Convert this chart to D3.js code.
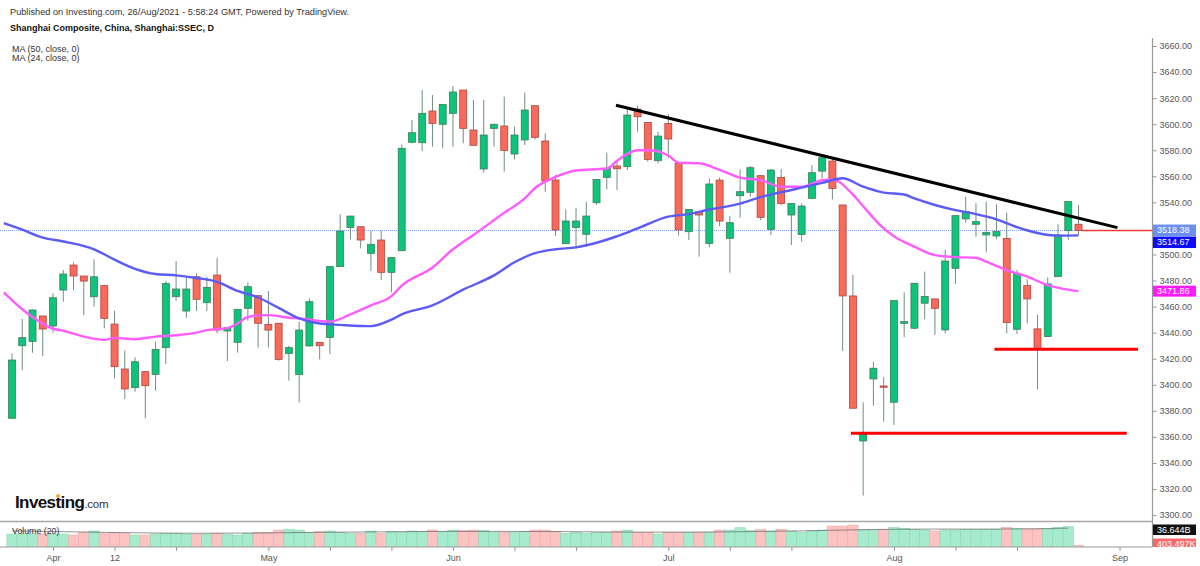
<!DOCTYPE html>
<html>
<head>
<meta charset="utf-8">
<script src="https://cdn.jsdelivr.net/npm/d3@7/dist/d3.min.js"></script>
<style>
    body { margin: 0; background: #fff; }
    svg { display: block; font-family: "Liberation Sans", Arial, sans-serif; }
</style>
</head>
<body>
<div id="chart"></div>
<script>

/************ DATA ***************/
// trading days, 26 Mar 2021 -> 26 Aug 2021
var dates = [
    "03-26", "03-29", "03-30", "03-31",
    "04-01", "04-02", "04-06", "04-07", "04-08", "04-09", "04-12", "04-13", "04-14", "04-15", "04-16",
    "04-19", "04-20", "04-21", "04-22", "04-23", "04-26", "04-27", "04-28", "04-29", "04-30",
    "05-06", "05-07", "05-10", "05-11", "05-12", "05-13", "05-14", "05-17", "05-18", "05-19", "05-20",
    "05-21", "05-24", "05-25", "05-26", "05-27", "05-28", "05-31",
    "06-01", "06-02", "06-03", "06-04", "06-07", "06-08", "06-09", "06-10", "06-11", "06-15", "06-16",
    "06-17", "06-18", "06-21", "06-22", "06-23", "06-24", "06-25", "06-28", "06-29", "06-30",
    "07-01", "07-02", "07-05", "07-06", "07-07", "07-08", "07-09", "07-12", "07-13", "07-14", "07-15",
    "07-16", "07-19", "07-20", "07-21", "07-22", "07-23", "07-26", "07-27", "07-28", "07-29", "07-30",
    "08-02", "08-03", "08-04", "08-05", "08-06", "08-09", "08-10", "08-11", "08-12", "08-13", "08-16",
    "08-17", "08-18", "08-19", "08-20", "08-23", "08-24", "08-25", "08-26"
];

var opens = [
    3374.3, 3430.0, 3433.3, 3452.8, 3445.1, 3472.7, 3491.9, 3483.5, 3467.6, 3476.1,
    3446.6, 3412.1, 3397.8, 3410.1, 3408.0, 3428.5, 3467.6, 3456.6, 3482.9, 3463.0,
    3484.2, 3441.3, 3432.6, 3458.7, 3468.4, 3446.4, 3447.2, 3424.1, 3408.0, 3429.8,
    3432.6, 3436.4, 3490.7, 3520.8, 3521.3, 3500.9, 3511.1, 3486.3, 3502.9, 3586.1,
    3585.8, 3610.1, 3599.9, 3608.3, 3626.2, 3595.5, 3565.6, 3596.8, 3598.6, 3577.1,
    3587.9, 3614.2, 3587.1, 3557.2, 3508.3, 3520.8, 3515.5, 3539.7, 3559.2, 3567.9,
    3567.4, 3611.6, 3601.4, 3572.0, 3600.6, 3569.9, 3517.5, 3532.8, 3508.5, 3557.1,
    3512.4, 3545.1, 3547.7, 3560.5, 3519.3, 3559.2, 3530.3, 3515.4, 3543.1, 3564.0,
    3571.7, 3538.0, 3468.2, 3356.9, 3404.5, 3399.1, 3386.6, 3447.2, 3443.4, 3462.6,
    3465.9, 3442.1, 3489.4, 3527.3, 3523.2, 3515.0, 3514.2, 3512.4, 3442.6, 3476.1,
    3442.9, 3437.0, 3483.0, 3518.3, 3523.2
];
var highs = [
    3424.1, 3450.5, 3457.9, 3452.8, 3470.2, 3488.1, 3493.9, 3483.5, 3496.3, 3476.1,
    3456.9, 3426.2, 3421.1, 3410.1, 3433.1, 3479.6, 3495.0, 3482.2, 3485.5, 3482.9,
    3497.5, 3443.8, 3457.9, 3478.6, 3468.4, 3472.0, 3447.2, 3430.0, 3448.4, 3466.4,
    3432.6, 3490.7, 3530.8, 3529.5, 3521.3, 3518.0, 3518.3, 3497.6, 3584.5, 3603.2,
    3626.2, 3622.4, 3615.2, 3629.3, 3626.2, 3618.6, 3618.6, 3600.6, 3621.1, 3598.1,
    3624.2, 3614.2, 3593.0, 3561.0, 3534.6, 3535.9, 3540.5, 3557.6, 3578.1, 3571.7,
    3612.9, 3614.2, 3601.4, 3594.2, 3607.8, 3569.9, 3534.6, 3532.8, 3558.4, 3559.0,
    3529.5, 3565.3, 3567.9, 3560.5, 3565.6, 3565.6, 3539.2, 3539.2, 3568.6, 3576.3,
    3572.9, 3538.0, 3484.3, 3386.6, 3417.8, 3405.8, 3464.6, 3471.0, 3477.9, 3486.9,
    3465.9, 3503.5, 3529.8, 3544.4, 3539.3, 3540.6, 3538.5, 3532.1, 3488.1, 3481.0,
    3453.6, 3482.3, 3523.2, 3540.6, 3538.0
];
var lows = [
    3374.3, 3411.3, 3424.6, 3422.1, 3440.0, 3463.8, 3472.7, 3453.5, 3459.9, 3443.3,
    3404.9, 3389.1, 3394.7, 3374.3, 3395.5, 3415.9, 3464.5, 3451.5, 3456.6, 3456.6,
    3439.5, 3418.2, 3424.6, 3449.2, 3428.5, 3428.5, 3418.5, 3403.2, 3386.5, 3429.3,
    3419.5, 3423.6, 3490.7, 3511.6, 3504.7, 3487.3, 3480.4, 3471.0, 3502.9, 3585.3,
    3579.4, 3582.7, 3581.5, 3582.7, 3585.3, 3583.8, 3562.8, 3582.7, 3563.6, 3573.0,
    3584.0, 3588.4, 3548.2, 3514.2, 3508.3, 3504.7, 3506.0, 3538.0, 3550.0, 3549.5,
    3564.8, 3594.2, 3571.2, 3570.0, 3573.8, 3514.4, 3511.1, 3498.3, 3505.5, 3521.8,
    3486.0, 3528.2, 3544.3, 3526.4, 3514.9, 3537.9, 3507.3, 3509.8, 3543.1, 3558.4,
    3542.3, 3426.0, 3382.0, 3315.0, 3384.0, 3371.7, 3369.2, 3436.5, 3442.6, 3450.3,
    3438.3, 3439.5, 3477.4, 3524.5, 3513.7, 3501.7, 3511.7, 3439.5, 3439.0, 3447.2,
    3396.6, 3437.0, 3483.0, 3511.2, 3515.0
];
var closes = [
    3419.0, 3436.2, 3457.4, 3442.8, 3466.8, 3485.0, 3483.5, 3479.6, 3482.9, 3451.0,
    3413.9, 3396.8, 3417.7, 3399.3, 3427.2, 3477.8, 3473.5, 3473.5, 3465.6, 3474.8,
    3442.0, 3443.8, 3457.9, 3475.3, 3447.2, 3442.0, 3419.5, 3428.5, 3442.0, 3463.8,
    3430.0, 3490.7, 3518.0, 3529.5, 3511.1, 3507.8, 3486.3, 3497.6, 3581.5, 3593.5,
    3608.3, 3600.6, 3615.2, 3624.7, 3596.8, 3583.8, 3591.7, 3599.9, 3579.9, 3591.7,
    3610.9, 3589.9, 3556.4, 3518.8, 3525.7, 3525.7, 3529.5, 3557.6, 3566.1, 3565.8,
    3607.0, 3605.7, 3573.0, 3590.9, 3588.6, 3518.8, 3534.6, 3530.3, 3554.1, 3525.7,
    3524.4, 3548.2, 3566.6, 3528.5, 3564.8, 3539.2, 3539.2, 3537.2, 3562.8, 3574.3,
    3550.7, 3468.2, 3382.0, 3362.8, 3412.7, 3398.1, 3464.6, 3448.5, 3477.9, 3467.7,
    3458.7, 3495.0, 3529.8, 3532.9, 3525.2, 3516.8, 3517.6, 3447.7, 3485.6, 3465.9,
    3427.3, 3477.4, 3515.0, 3540.6, 3518.38
];
// volume, billions
var volumes = [
    27.3, 27.3, 27.3, 27.3, 27.3, 27.3, 25.1, 30.9, 33.8, 28.7,
    30.9, 28.7, 25.1, 25.1, 27.3, 28.7, 28.7, 27.3, 27.3, 27.3,
    28.7, 26.6, 25.1, 28.7, 30.9, 30.9, 35.9, 37.4, 35.9, 30.9,
    32.3, 33.8, 30.9, 28.7, 28.7, 33.8, 28.7, 32.3, 30.9, 33.8,
    32.3, 35.9, 32.3, 35.9, 34.5, 35.9, 34.5, 30.9, 30.9, 30.9,
    32.3, 35.9, 35.9, 32.3, 28.7, 30.9, 28.7, 30.9, 30.9, 33.8,
    35.9, 30.9, 30.9, 27.3, 30.9, 30.9, 30.9, 30.9, 30.9, 35.9,
    35.9, 40.9, 34.5, 37.4, 33.8, 37.4, 33.8, 30.9, 34.5, 35.9,
    44.5, 44.5, 46.7, 37.4, 35.9, 37.4, 41.7, 39.5, 37.4, 35.9,
    33.8, 35.9, 35.9, 37.4, 37.4, 37.4, 37.4, 41.7, 39.5, 38.1,
    38.1, 38.1, 41.7, 43.1, 0.000403497
];

// moving averages (candle index -> value)
var ma50Idx = [-0.8, 1, 3, 5, 8, 10, 12, 14, 16, 18, 20, 22, 24, 26, 28, 30, 32, 35, 37, 38,
    41, 44, 47, 49, 51, 53, 55, 57, 59, 61, 64, 66, 68, 71, 73, 76, 79, 81, 83, 85,
    87, 88, 90, 92, 94, 96, 98, 100, 102, 104];
var ma50Val = [3524, 3519, 3513, 3510, 3504, 3496, 3489, 3485, 3484, 3482, 3479, 3472, 3467, 3459, 3451, 3447, 3446, 3445, 3450, 3454,
    3461, 3473, 3484, 3494, 3501, 3504, 3505.5, 3509, 3514, 3520, 3529, 3531, 3534.5, 3539, 3544, 3549.5, 3555, 3558.5, 3552, 3547.5,
    3546, 3543, 3538, 3534, 3531, 3527, 3521, 3516.5, 3514.5, 3514.67];

var ma24Idx = [-0.8, 1, 2, 4, 5, 7, 9, 10, 12, 14, 16, 18, 19, 21, 22, 23, 25, 27, 28, 31,
    33, 35, 37, 38, 41, 43, 45, 48, 50, 51, 53, 55, 58, 59, 61, 62, 64, 65, 67, 69,
    71, 73, 75, 77, 79, 80, 82, 83, 85, 86, 88, 90, 92, 94, 95, 97, 99, 101, 103, 104];
var ma24Val = [3471, 3458, 3452, 3443, 3441.5, 3437, 3434.5, 3436, 3435, 3437, 3438, 3440, 3442, 3443.5, 3447, 3452, 3453.5, 3451.5, 3451, 3448.5,
    3454, 3461, 3468, 3476, 3490, 3504, 3515, 3532, 3543, 3551, 3559.5, 3564.5, 3566, 3572, 3580, 3580, 3576, 3570.5, 3570, 3565,
    3559, 3557, 3552, 3552, 3557, 3557.5, 3546, 3537, 3520, 3514, 3506, 3499.5, 3498, 3497.5, 3494.5, 3488, 3483, 3476.5, 3473, 3471.86];

var volMaIdx = [0, 6, 12, 18, 24, 30, 36, 42, 48, 54, 60, 66, 72, 78, 84, 90, 96, 103];
var volMaVal = [34, 32, 30, 29, 29.5, 31, 32, 33, 33, 32.5, 31.5, 31.5, 32.5, 34.5, 37, 38, 38, 40];

// drawings on the chart: [index, price] end points
var trendLine = [[58.9, 3614.5], [107.8, 3520.6]];
var supportHigh = [[95.8, 3427.3], [109.8, 3427.3]];
var supportLow = [[81.8, 3362.8], [108.7, 3362.8]];

var yTicks = [3300, 3320, 3340, 3360, 3380, 3400, 3420, 3440, 3460, 3480, 3500,
    3520, 3540, 3560, 3580, 3600, 3620, 3640, 3660];
var tickIdx = [4, 10, 16, 25, 31, 37, 43, 49, 55, 64, 70, 76, 86, 92, 98, 108];
var tickLabels = ["Apr", "12", "", "May", "", "", "Jun", "", "", "Jul", "", "", "Aug", "", "", "Sep"];

var lastPrice = 3518.38, lastMa50 = 3514.67, lastMa24 = 3471.86, lastVolMa = 36.644;


/************ PAGE SET-UP ***************/
var W = 1200, H = 566;
var axisX = 1152.5;
var step = 10.255;

var svg = d3.select("#chart").append("svg")
    .attr("width", W)
    .attr("height", H);

var x = d3.scaleLinear().domain([0, 108]).range([12, 12 + 108 * step]);
var y = d3.scaleLinear().domain([3300, 3660]).range([515.1, 46]);
var yVol = d3.scaleLinear().domain([0, 53.9]).range([546.7, 521.7]);

var candles = dates.map(function (d, i) {
    return { i: i, date: d, o: opens[i], h: highs[i], l: lows[i], c: closes[i], v: volumes[i] };
});

var defs = svg.append("defs");
defs.append("clipPath").attr("id", "pricePane")
    .append("rect").attr("x", 0).attr("y", 36).attr("width", axisX).attr("height", 485);
defs.append("clipPath").attr("id", "volPane")
    .append("rect").attr("x", 0).attr("y", 522).attr("width", W).attr("height", 24.8);
defs.append("clipPath").attr("id", "volTag")
    .append("rect").attr("x", axisX).attr("y", 520).attr("width", 50).attr("height", 27);


/************ HEADER ***************/
svg.append("text")
    .attr("x", 10).attr("y", 15)
    .text("Published on Investing.com, 26/Aug/2021 - 5:58:24 GMT, Powered by TradingView.")
    .style("font-size", "9.2px")
    .attr("fill", "#333");

svg.append("text")
    .attr("x", 10).attr("y", 30.5)
    .text("Shanghai Composite, China, Shanghai:SSEC, D")
    .style("font-size", "9px")
    .style("font-weight", "bold")
    .attr("fill", "#111");

svg.append("text")
    .attr("x", 12).attr("y", 51.5)
    .text("MA (50, close, 0)")
    .style("font-size", "9px")
    .attr("fill", "#333");

svg.append("text")
    .attr("x", 12).attr("y", 60.5)
    .text("MA (24, close, 0)")
    .style("font-size", "9px")
    .attr("fill", "#333");


/************ PRICE PANE ***************/
var price = svg.append("g").attr("clip-path", "url(#pricePane)");

// dotted last price line
price.append("line")
    .attr("x1", 0).attr("x2", axisX)
    .attr("y1", y(lastPrice)).attr("y2", y(lastPrice))
    .attr("stroke", "#7f9ff5")
    .attr("stroke-width", 1)
    .attr("stroke-dasharray", "1,1");

price.append("line")
    .attr("x1", x(104) + 3).attr("x2", axisX)
    .attr("y1", y(lastPrice)).attr("y2", y(lastPrice))
    .attr("stroke", "#f03a3a")
    .attr("stroke-width", 1.5);

// candles
var candle = price.selectAll(".candle")
    .data(candles)
    .enter().append("g")
    .attr("class", "candle");

candle.append("line")
    .attr("x1", function (d) { return x(d.i); })
    .attr("x2", function (d) { return x(d.i); })
    .attr("y1", function (d) { return y(d.h); })
    .attr("y2", function (d) { return y(d.l); })
    .attr("stroke", "#738f80")
    .attr("stroke-width", 1);

candle.append("rect")
    .attr("x", function (d) { return x(d.i) - 3.5; })
    .attr("width", 7)
    .attr("y", function (d) { return y(Math.max(d.o, d.c)); })
    .attr("height", function (d) { return Math.max(1.2, Math.abs(y(d.o) - y(d.c))); })
    .attr("fill", function (d) { return d.c >= d.o ? "#0cc47a" : "#fa6a5b"; })
    .attr("stroke", function (d) { return d.c >= d.o ? "#3f7d5c" : "#a8493f"; })
    .attr("stroke-width", 0.8);

// moving averages
var maLine = d3.line()
    .x(function (d) { return x(d[0]); })
    .y(function (d) { return y(d[1]); })
    .curve(d3.curveMonotoneX);

price.append("path")
    .datum(d3.zip(ma24Idx, ma24Val))
    .attr("d", maLine)
    .attr("fill", "none")
    .attr("stroke", "#ff5cff")
    .attr("stroke-width", 2.4);

price.append("path")
    .datum(d3.zip(ma50Idx, ma50Val))
    .attr("d", maLine)
    .attr("fill", "none")
    .attr("stroke", "#5b5bf7")
    .attr("stroke-width", 2.4);

// drawn lines
var straight = d3.line()
    .x(function (d) { return x(d[0]); })
    .y(function (d) { return y(d[1]); });

price.append("path").datum(trendLine).attr("d", straight)
    .attr("stroke", "#000").attr("stroke-width", 3).attr("fill", "none");
price.append("path").datum(supportHigh).attr("d", straight)
    .attr("stroke", "#f00").attr("stroke-width", 3).attr("fill", "none");
price.append("path").datum(supportLow).attr("d", straight)
    .attr("stroke", "#f00").attr("stroke-width", 3).attr("fill", "none");


/************ INVESTING LOGO ***************/
var logo = svg.append("text")
    .attr("x", 15).attr("y", 508)
    .style("font-size", "17px")
    .style("font-weight", "bold")
    .style("letter-spacing", "-0.6px")
    .attr("fill", "#111");
logo.append("tspan").text("Investing");
logo.append("tspan").text(".com")
    .style("font-size", "11.5px")
    .style("font-weight", "normal")
    .style("letter-spacing", "-0.2px")
    .attr("fill", "#333");

// orange dot on the second "i"
var logoNode = logo.node();
var iStart = logoNode.getStartPositionOfChar(5);
var iEnd = logoNode.getEndPositionOfChar(5);
svg.append("rect")
    .attr("x", iStart.x - 0.5).attr("y", 494)
    .attr("width", iEnd.x - iStart.x + 1).attr("height", 4)
    .attr("fill", "#fff");
svg.append("circle")
    .attr("cx", (iStart.x + iEnd.x) / 2)
    .attr("cy", 496)
    .attr("r", 1.9)
    .attr("fill", "#f7a21b");


/************ VOLUME PANE ***************/
var vol = svg.append("g").attr("clip-path", "url(#volPane)");

vol.selectAll(".vbar")
    .data(candles)
    .enter().append("rect")
    .attr("class", "vbar")
    .attr("x", function (d) { return x(d.i) - step / 2; })
    .attr("width", step)
    .attr("y", function (d) { return Math.min(yVol(d.v), yVol(0) - 1.5); })
    .attr("height", function (d) { return Math.max(1.5, yVol(0) - yVol(d.v)); })
    .attr("fill", function (d) { return d.c >= d.o ? "#a6ebcd" : "#fdc3c2"; })
    .attr("stroke", function (d) { return d.c >= d.o ? "#8ad8b5" : "#f1a9a8"; })
    .attr("stroke-width", 0.6);

vol.append("path")
    .datum(d3.zip(volMaIdx, volMaVal))
    .attr("d", d3.line()
        .x(function (d) { return x(d[0]); })
        .y(function (d) { return yVol(d[1]); })
        .curve(d3.curveMonotoneX))
    .attr("fill", "none")
    .attr("stroke", "#666")
    .attr("stroke-opacity", 0.7)
    .attr("stroke-width", 1);

svg.append("text")
    .attr("x", 12).attr("y", 533.5)
    .text("Volume (20)")
    .style("font-size", "8.8px")
    .attr("fill", "#333");

// pane borders
svg.append("line")
    .attr("x1", 0).attr("x2", axisX).attr("y1", 521.5).attr("y2", 521.5)
    .attr("stroke", "#a8a8a8").attr("stroke-width", 1.5);
svg.append("line")
    .attr("x1", 0).attr("x2", axisX).attr("y1", 547).attr("y2", 547)
    .attr("stroke", "#999").attr("stroke-width", 1.2);
svg.append("line")
    .attr("x1", axisX).attr("x2", axisX).attr("y1", 38).attr("y2", 547)
    .attr("stroke", "#999").attr("stroke-width", 1.2);


/************ AXES ***************/
var lastTop = y(lastPrice) - 6;
// tags on the price axis: [top, height]
var tagBoxes = [[lastTop, 11.5], [lastTop + 12, 11.5], [y(lastMa24) - 5.5, 11]];

var yAxis = svg.append("g")
    .attr("transform", "translate(" + axisX + ",0)")
    .call(d3.axisRight(y)
        .tickValues(yTicks)
        .tickSize(4)
        .tickPadding(3)
        .tickFormat(d3.format(".2f")));
yAxis.select(".domain").remove();
yAxis.selectAll("line").attr("stroke", "#999");
yAxis.selectAll("text")
    .style("font-family", "Liberation Sans, Arial, sans-serif")
    .style("font-size", "9px")
    .attr("fill", "#555");

// labels sitting under a value tag are hidden by it
yAxis.selectAll(".tick")
    .filter(function (d) {
        var ty = y(d);
        return tagBoxes.some(function (b) { return ty > b[0] - 3 && ty < b[0] + b[1] + 3; });
    })
    .select("text").remove();

var xAxis = svg.append("g")
    .attr("transform", "translate(0,547)")
    .call(d3.axisBottom(x)
        .tickValues(tickIdx)
        .tickSize(4)
        .tickPadding(4)
        .tickFormat(function (d, i) { return tickLabels[i]; }));
xAxis.select(".domain").remove();
xAxis.selectAll("line").attr("stroke", "#999");
xAxis.selectAll("text")
    .style("font-family", "Liberation Sans, Arial, sans-serif")
    .style("font-size", "9px")
    .attr("fill", "#555");


/************ VALUE TAGS ***************/
function tag(yTop, h, fill, label, clip) {
    var g = svg.append("g");
    if (clip) g.attr("clip-path", clip);
    g.append("rect")
        .attr("x", axisX + 0.5).attr("y", yTop)
        .attr("width", 43).attr("height", h)
        .attr("fill", fill);
    g.append("text")
        .attr("x", axisX + 4.5).attr("y", yTop + h / 2)
        .attr("dy", "0.35em")
        .text(label)
        .style("font-size", "9px")
        .attr("fill", "#fff");
}

tag(tagBoxes[0][0], tagBoxes[0][1], "#6a90f2", d3.format(".2f")(lastPrice));
tag(tagBoxes[1][0], tagBoxes[1][1], "#0a0aff", d3.format(".2f")(lastMa50));
tag(tagBoxes[2][0], tagBoxes[2][1], "#ff1aff", d3.format(".2f")(lastMa24));
tag(524.5, 10.5, "#111", d3.format(".3f")(lastVolMa) + "B");
tag(538.5, 11, "#f66a6a", d3.format(".3f")(volumes[104] * 1e6) + "K", "url(#volTag)");

</script>
</body>
</html>
